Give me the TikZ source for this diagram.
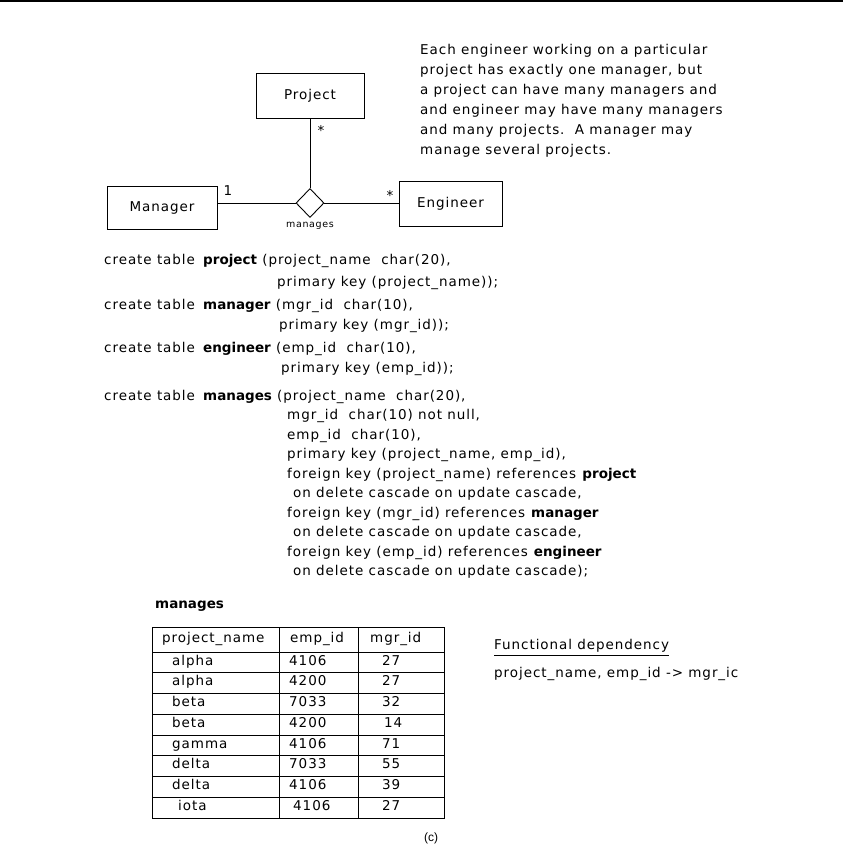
\documentclass[tikz,border=0pt]{standalone}
\usepackage{fontspec}
\setmainfont{DejaVu Sans}[LetterSpace=7,BoldFeatures={LetterSpace=0}]
\newfontfamily\capfont{Liberation Sans}
\usetikzlibrary{shapes.geometric}
\begin{document}
\begin{tikzpicture}[x=1pt,y=-1pt,
  txt/.style={inner sep=0pt, anchor=mid west, font=\fontsize{13.5}{15}\selectfont},
  btxt/.style={txt, font=\fontsize{13.5}{15}\selectfont\bfseries},
  ent/.style={draw, line width=0.9pt, inner sep=0pt, font=\fontsize{13.5}{15}\selectfont},
  rel/.style={draw, line width=0.9pt, diamond, inner sep=0pt, minimum width=28pt, minimum height=29pt},
  conn/.style={line width=0.9pt},
  lab/.style={inner sep=0pt, font=\fontsize{13.5}{15}\selectfont},
  small/.style={inner sep=0pt, font=\fontsize{9.5}{11}\selectfont},
  grid/.style={line width=0.9pt},
  cell/.style={txt}
]
\useasboundingbox (0,0) rectangle (843,853);
\fill[white] (0,0) rectangle (843,853);
\draw[line width=2pt] (0,1) -- (843,1);

% ER diagram
\node[ent, minimum width=108pt, minimum height=45pt] (project) at (310,95.5) {Project};
\node[ent, minimum width=110pt, minimum height=43pt] (manager) at (162,207.5) {Manager};
\node[ent, minimum width=103pt, minimum height=45pt] (engineer) at (450.5,203.5) {Engineer};
\node[rel] (manages) at (310,203) {};
\draw[conn] (project) -- (manages);
\draw[conn] (manages.west) -- (manages.west -| manager.east);
\draw[conn] (manages.east) -- (manages.east -| engineer.west);
\node[lab] (s1) at (321,130) {*};
\node[lab] (one) at (228,191) {1};
\node[lab] (s2) at (390,195) {*};
\node[small] (relname) at (310,226) {manages};

% description
\node[txt] (d1) at (420,52) {Each engineer working on a particular};
\node[txt] (d2) at (420,72) {project has exactly one manager, but};
\node[txt] (d3) at (420,92) {a project can have many managers and};
\node[txt] (d4) at (420,112) {and engineer may have many managers};
\node[txt] (d5) at (420,132) {and many projects.\ \ A manager may};
\node[txt] (d6) at (420,152) {manage several projects.};

% SQL
\node[txt] (c1a) at (104,262) {create table\hspace{3pt} \textbf{project} (project\_name\ \ char(20),};
\node[txt] (c1d) at (277,284) {primary key (project\_name));};

\node[txt] (c2a) at (104,307) {create table\hspace{3pt} \textbf{manager} (mgr\_id\ \ char(10),};
\node[txt] (c2d) at (279,327) {primary key (mgr\_id));};

\node[txt] (c3a) at (104,350) {create table\hspace{3pt} \textbf{engineer} (emp\_id\ \ char(10),};
\node[txt] (c3d) at (281,370) {primary key (emp\_id));};

\node[txt] (c4a) at (104,397.5) {create table\hspace{3pt} \textbf{manages} (project\_name\ \ char(20),};
\node[txt] (c4d) at (287,417) {mgr\_id\ \ char(10) not null,};
\node[txt] (c4e) at (287,436.5) {emp\_id\ \ char(10),};
\node[txt] (c4f) at (287,456) {primary key (project\_name, emp\_id),};
\node[txt] (c4g) at (287,475.5) {foreign key (project\_name) references \textbf{project}};
\node[txt] (c4h) at (293,495) {on delete cascade on update cascade,};
\node[txt] (c4i) at (287,514.5) {foreign key (mgr\_id) references\ \textbf{manager}};
\node[txt] (c4j) at (293,534) {on delete cascade on update cascade,};
\node[txt] (c4k) at (287,553.5) {foreign key (emp\_id) references \textbf{engineer}};
\node[txt] (c4l) at (293,573) {on delete cascade on update cascade);};

% table
\node[btxt] (tname) at (155,606) {manages};
\draw[grid] (152,627) rectangle (444,818);
\draw[grid] (279,627) -- (279,818);
\draw[grid] (358,627) -- (358,818);
\foreach \yy in {652,672.75,693.5,714.25,735,755.75,776.5,797.25}
  \draw[grid] (152,\yy) -- (444,\yy);
\node[cell] (h1) at (162,640) {project\_name};
\node[cell] (h2) at (290,640) {emp\_id};
\node[cell] (h3) at (370,640) {mgr\_id};
\foreach \i/\a/\ax/\b/\bx/\c/\cx in {0/alpha/172/4106/289/27/382,1/alpha/172/4200/289/27/382,2/beta/172/7033/289/32/382,3/beta/172/4200/289/14/384,4/gamma/172/4106/289/71/382,5/delta/172/7033/289/55/382,6/delta/172/4106/289/39/382,7/iota/178/4106/293/27/382}{
  \node[cell] (r\i a) at (\ax,{652+20.75*(\i+0.5)}) {\a};
  \node[cell] (r\i b) at (\bx,{652+20.75*(\i+0.5)}) {\b};
  \node[cell] (r\i c) at (\cx,{652+20.75*(\i+0.5)}) {\c};
}

% functional dependency
\node[txt] (fdt) at (494,647) {Functional dependency};
\draw[line width=0.9pt] (fdt.south west) ++(0,3) coordinate (ul1) -- (ul1 -| fdt.south east);
\node[txt] (fd) at (494,675) {project\_name, emp\_id -> mgr\_ic};

\node[inner sep=0pt, font=\capfont\fontsize{12}{14}\selectfont] (cap) at (431,838) {(c)};
\end{tikzpicture}
\end{document}
